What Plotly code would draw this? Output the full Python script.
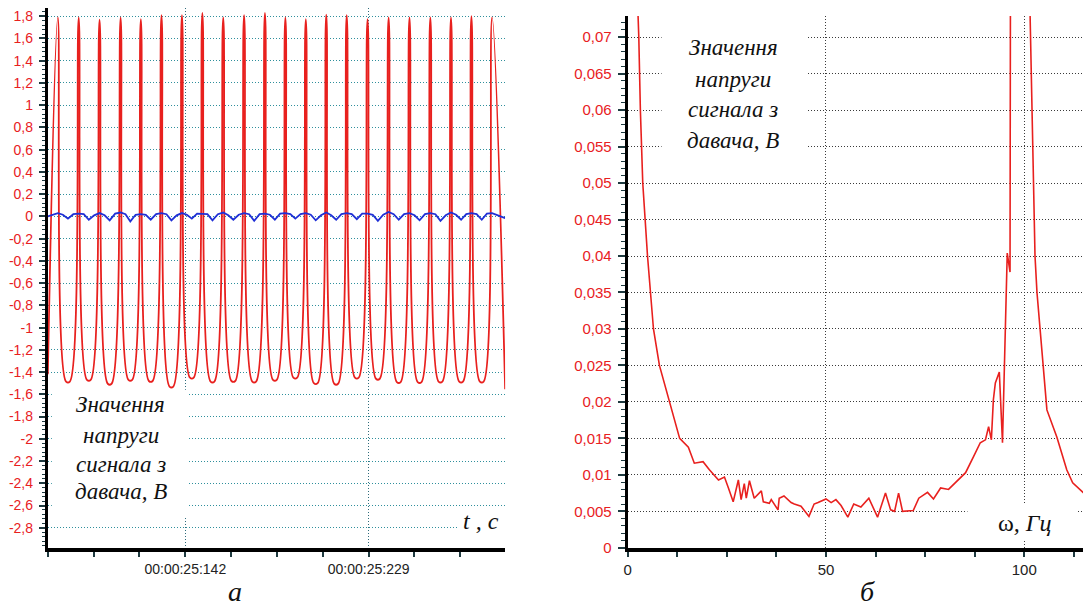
import plotly.graph_objects as go

W = 1083
S = 0.985            # vertical scale of the photographed page (measured)
H = 614              # figure height so that 605 visible px map onto it

# ---------------- Panel а: time signal (ms after 00:00:25:000) ----------------
peak_t = [81.5, 91.4, 101.3, 111.3, 120.9, 130.7, 140.4, 150.1, 160.0, 169.9, 179.8,
          189.5, 199.2, 208.9, 218.6, 228.5, 238.5, 248.4, 258.3, 268.1, 277.8, 287.6]
peak_v = [1.79, 1.79, 1.77, 1.79, 1.775, 1.81, 1.81, 1.83, 1.79, 1.81, 1.83,
          1.79, 1.775, 1.815, 1.81, 1.775, 1.79, 1.79, 1.79, 1.79, 1.80, 1.79]
trough_t = [86.3, 96.2, 106.1, 115.9, 125.6, 135.4, 145.1, 154.9, 164.8, 174.7, 184.5,
            194.2, 203.9, 213.6, 223.4, 233.4, 243.3, 253.2, 263.1, 272.9, 282.7]
trough_v = [-1.485, -1.47, -1.505, -1.47, -1.48, -1.53, -1.45, -1.485, -1.48, -1.485, -1.47,
            -1.45, -1.50, -1.505, -1.45, -1.46, -1.49, -1.49, -1.485, -1.485, -1.485]
start_t, start_v = 76.75, -1.42
end_t, end_v = 293.8, -1.555

blue_peak_v = [0.03, 0.025, 0.03, 0.035, 0.02, 0.03, 0.03, 0.025, 0.035, 0.03, 0.025,
               0.03, 0.03, 0.035, 0.03, 0.025, 0.04, 0.03, 0.03, 0.035, 0.03, 0.03]
blue_fall_v = [0.015, 0.02, 0.01, 0.02, 0.015, 0.02, 0.015, 0.02, 0.01, 0.02, 0.015,
               0.02, 0.015, 0.01, 0.02, 0.015, 0.02, 0.01, 0.02, 0.015, 0.02, 0.01]
blue_trough_v = [-0.02, -0.03, -0.035, -0.045, -0.03, -0.035, -0.02, -0.035, -0.03, -0.04, -0.03,
                 -0.02, -0.035, -0.03, -0.025, -0.04, -0.03, -0.035, -0.04, -0.03, -0.03]
blue_rise_v = [0.02, 0.01, 0.025, 0.015, 0.02, 0.01, 0.025, 0.02, 0.015, 0.02, 0.025,
               0.02, 0.01, 0.02, 0.025, 0.015, 0.02, 0.02, 0.01, 0.02, 0.025]
blue_start_v, blue_end_v = 0.0, -0.015

a_ytick_vals = [1.8, 1.6, 1.4, 1.2, 1.0, 0.8, 0.6, 0.4, 0.2, 0, -0.2, -0.4, -0.6, -0.8,
                -1.0, -1.2, -1.4, -1.6, -1.8, -2.0, -2.2, -2.4, -2.6, -2.8]
a_ytick_text = ["1,8", "1,6", "1,4", "1,2", "1", "0,8", "0,6", "0,4", "0,2", "0", "-0,2", "-0,4",
                "-0,6", "-0,8", "-1", "-1,2", "-1,4", "-1,6", "-1,8", "-2", "-2,2", "-2,4", "-2,6", "-2,8"]
a_xtick_vals = [142, 229]
a_xtick_text = ["00:00:25:142", "00:00:25:229"]

# ---------------- Panel б: spectrum ----------------
freq = [2.3, 2.8, 3.2, 3.8, 5.0, 5.8, 6.5, 8.0, 10.5, 13.1, 15.3, 16.8, 19.0, 20.6, 22.9, 24.4,
        25.4, 26.6, 27.9, 28.6, 29.4, 29.9, 30.7, 31.9, 33.7, 34.2, 35.7, 36.2, 37.9, 38.2, 39.4,
        41.2, 42.0, 43.7, 45.7, 47.0, 48.0, 50.0, 51.3, 52.5, 53.8, 55.5, 57.0, 58.8, 60.8, 61.5,
        63.0, 65.0, 66.3, 67.3, 68.3, 69.3, 72.0, 73.4, 75.6, 77.1, 78.9, 80.9, 83.2, 85.2, 87.2,
        88.9, 90.2, 91.0, 91.7, 92.2, 92.7, 93.7, 94.5, 95.7, 96.4, 96.8, 99.0, 101.2, 102.7,
        103.2, 105.7, 108.2, 110.7, 112.2, 114.5, 115.0]
ampl = [0.078, 0.070, 0.060, 0.050, 0.040, 0.035, 0.030, 0.025, 0.020, 0.015, 0.0138, 0.0116,
        0.0118, 0.0107, 0.0093, 0.0097, 0.0082, 0.0063, 0.0093, 0.0066, 0.0088, 0.0068, 0.0092,
        0.0068, 0.0078, 0.0063, 0.0061, 0.0066, 0.0052, 0.0068, 0.0071, 0.0062, 0.0060, 0.0057,
        0.0043, 0.0060, 0.0062, 0.0067, 0.0062, 0.0066, 0.0058, 0.0042, 0.0060, 0.0056, 0.0068,
        0.0060, 0.0042, 0.0075, 0.0052, 0.0050, 0.0075, 0.0050, 0.0051, 0.0068, 0.0076, 0.0067,
        0.0082, 0.0080, 0.0093, 0.0103, 0.0125, 0.0144, 0.0148, 0.0166, 0.0148, 0.0203, 0.0226,
        0.0241, 0.0144, 0.0404, 0.0378, 0.080, 1.0, 0.080, 0.040, 0.035, 0.0189, 0.0152, 0.0107,
        0.0089, 0.0077, 0.0075]

b_ytick_vals = [0.07, 0.065, 0.06, 0.055, 0.05, 0.045, 0.04, 0.035, 0.03, 0.025, 0.02, 0.015,
                0.01, 0.005, 0]
b_ytick_text = ["0,07", "0,065", "0,06", "0,055", "0,05", "0,045", "0,04", "0,035", "0,03",
                "0,025", "0,02", "0,015", "0,01", "0,005", "0"]
b_xtick_vals = [0, 50, 100]
b_xtick_text = ["0", "50", "100"]

label_lines = ["Значення", "напруги", "сигнала з", "давача, В"]

# ---------------- build traces ----------------
HW = 0.9  # half width of the flattened trough
rx, ry = [start_t], [start_v]
bx, by = [start_t], [blue_start_v]
for i in range(len(peak_t)):
    rx.append(peak_t[i]); ry.append(peak_v[i])
    bx.append(peak_t[i]); by.append(blue_peak_v[i])
    if i < len(trough_t):
        rx += [trough_t[i] - HW, trough_t[i] + HW]
        ry += [trough_v[i], trough_v[i]]
        bx.append((peak_t[i] + trough_t[i]) / 2); by.append(blue_fall_v[i])
        bx.append(trough_t[i]); by.append(blue_trough_v[i])
        if i + 1 < len(peak_t):
            bx.append((trough_t[i] + peak_t[i + 1]) / 2); by.append(blue_rise_v[i])
rx.append(end_t); ry.append(end_v)
bx.append(end_t); by.append(blue_end_v)

RED = "#e8201e"
fig = go.Figure()
fig.add_trace(go.Scatter(x=rx, y=ry, mode="lines", line=dict(color=RED, width=1.8, shape="spline", smoothing=1),
                         xaxis="x", yaxis="y", hoverinfo="skip"))
fig.add_trace(go.Scatter(x=bx, y=by, mode="lines", line=dict(color="#1f2fd6", width=1.8),
                         xaxis="x", yaxis="y", hoverinfo="skip"))
fig.add_trace(go.Scatter(x=freq, y=ampl, mode="lines", line=dict(color=RED, width=1.6),
                         xaxis="x2", yaxis="y2", hoverinfo="skip"))

SANS = "Liberation Sans, Arial, sans-serif"
SERIF = "Liberation Serif, Times New Roman, serif"
TICKC = "#1e3a40"

def fy(y):
    """target pixel row (from the top) -> paper fraction"""
    return 1 - (y / S) / H

# pixel geometry (target pixels)
aL, aR, aT, aB = 44, 503, 8, 546.7
bL, bR, bT, bB = 626, 1083, 16, 546.7

common_axis = dict(showline=True, linecolor="black", zeroline=False, ticks="outside",
                   tickcolor=TICKC, tickwidth=1.5, gridwidth=1, griddash="1px,2px")

fig.update_layout(
    width=W, height=H, margin=dict(l=0, r=0, t=0, b=0),
    paper_bgcolor="white", plot_bgcolor="white", showlegend=False,
    xaxis=dict(domain=[aL / W, aR / W], range=[76.75, 293.8], anchor="y",
               tickmode="array", tickvals=a_xtick_vals, ticktext=a_xtick_text,
               ticklen=5, linewidth=4, showgrid=True, gridcolor="#2f6b7a",
               tickfont=dict(family=SANS, size=14, color="#222"),
               minor=dict(tick0=142, dtick=21.75, ticks="outside", ticklen=5, tickcolor=TICKC,
                          tickwidth=1.5, showgrid=False),
               **common_axis),
    yaxis=dict(domain=[fy(aB), fy(aT)], range=[-2.98, 1.874], anchor="x",
               tickmode="array", tickvals=a_ytick_vals, ticktext=a_ytick_text,
               ticklen=6, linewidth=3, showgrid=True, gridcolor="#2f8f9c",
               ticklabelstandoff=3,
               tickfont=dict(family=SANS, size=14, color=RED),
               minor=dict(tick0=0, dtick=0.04, ticks="outside", ticklen=3, tickcolor=TICKC,
                          tickwidth=1.2, showgrid=False),
               **common_axis),
    xaxis2=dict(domain=[bL / W, 1.0], range=[0, 114.8], anchor="y2",
                tickmode="array", tickvals=b_xtick_vals, ticktext=b_xtick_text,
                ticklen=5, linewidth=4, showgrid=True, gridcolor="#3a3a3a",
                tickfont=dict(family=SANS, size=15, color="#222"),
                minor=dict(tick0=0, dtick=12.5, ticks="outside", ticklen=5, tickcolor=TICKC,
                           tickwidth=1.5, showgrid=False),
                **common_axis),
    yaxis2=dict(domain=[fy(bB), fy(bT)], range=[0, 0.0729], anchor="x2",
                tickmode="array", tickvals=b_ytick_vals, ticktext=b_ytick_text,
                ticklen=7, linewidth=3, showgrid=True, gridcolor="#3a3a3a",
                ticklabelstandoff=3,
                tickfont=dict(family=SANS, size=15, color=RED),
                minor=dict(tick0=0, dtick=0.001, ticks="outside", ticklen=4, tickcolor=TICKC,
                           tickwidth=1.2, showgrid=False),
                **common_axis),
)

# white boxes hiding gridlines behind labels
def box(x0, x1, y0, y1):
    return dict(type="rect", xref="paper", yref="paper", layer="above",
                x0=x0 / W, x1=x1 / W, y0=fy(y1), y1=fy(y0),
                fillcolor="white", line=dict(width=0))

fig.update_layout(shapes=[
    box(48, 185, 389, 517),
    box(455, 503, 510, 541),
    box(660, 806, 16, 168),
    box(967, 1076, 502, 539),
])

anns = []
def txt(x, y, text, size, color="#111"):
    anns.append(dict(xref="paper", yref="paper", x=x / W, y=fy(y), text=text, showarrow=False,
                     xanchor="center", yanchor="middle",
                     font=dict(family=SERIF, size=size, color=color)))

for line, yy in zip(label_lines, [404, 435, 464, 491]):
    txt(117, yy, "<i>" + line + "</i>", 23)
for line, yy in zip(label_lines, [47, 79, 109, 140]):
    txt(732, yy, "<i>" + line + "</i>", 23)
txt(479, 520, "<i>t , c</i>", 24)
txt(1024, 522, "ω<i>, Гц</i>", 24)
txt(232, 590, "<i>а</i>", 28)
txt(867, 590, "<i>б</i>", 28)
fig.update_layout(annotations=anns)

fig.write_html("out.html", config={"displayModeBar": False},
               post_script="document.body.style.margin='0px';")
